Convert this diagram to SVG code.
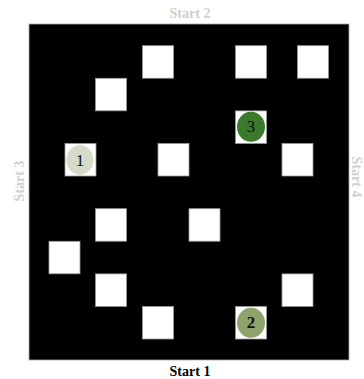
<svg xmlns="http://www.w3.org/2000/svg" width="364" height="379" viewBox="0 0 364 379">
<style>
.lbl{font-family:"Liberation Serif","Times New Roman",serif;font-size:14px;font-weight:bold;text-anchor:middle}
.start{fill:#cfcfcf}
.sq{fill:#ffffff;stroke:#9a9a9a;stroke-width:0.8}
.num{font-family:"Liberation Serif","Times New Roman",serif;font-size:17px;fill:#111;text-anchor:middle;dominant-baseline:central}
</style>
<rect x="0" y="0" width="364" height="379" fill="#ffffff"/>
<rect id="board" x="29" y="24" width="320" height="336" fill="#000000" stroke="#aaaaaa" stroke-width="0.8"/>
<text class="lbl start" x="190" y="18">Start 2</text>
<text class="lbl" x="190" y="376" fill="#000">Start 1</text>
<text class="lbl start" transform="translate(24,181) rotate(-90)">Start 3</text>
<text class="lbl start" transform="translate(352,177) rotate(90)">Start 4</text>
<g id="obstacles">
<rect class="sq" x="142.5" y="45.7" width="31" height="32.5"/>
<rect class="sq" x="235.5" y="45.7" width="31" height="32.5"/>
<rect class="sq" x="297.5" y="45.7" width="31" height="32.5"/>
<rect class="sq" x="95.5" y="78.3" width="31" height="32.5"/>
<rect class="sq" x="158" y="143.5" width="31" height="32.5"/>
<rect class="sq" x="282" y="143.5" width="31" height="32.5"/>
<rect class="sq" x="95.5" y="208.7" width="31" height="32.5"/>
<rect class="sq" x="189" y="208.7" width="31" height="32.5"/>
<rect class="sq" x="49" y="241.3" width="31" height="32.5"/>
<rect class="sq" x="95.5" y="273.9" width="31" height="32.5"/>
<rect class="sq" x="282" y="273.9" width="31" height="32.5"/>
<rect class="sq" x="142.5" y="306.5" width="31" height="32.5"/>
</g>
<g id="node1">
<rect class="sq" x="65" y="143.5" width="31" height="32.5"/>
<ellipse cx="80" cy="160" rx="13.5" ry="15" fill="#d6dbc9"/>
<text class="num" x="80" y="160">1</text>
</g>
<g id="node2">
<rect class="sq" x="235.5" y="306.5" width="31" height="32.5"/>
<ellipse cx="251" cy="322.8" rx="14" ry="15" fill="#8fa36f"/>
<text class="num" x="251" y="322.8" font-weight="bold">2</text>
</g>
<g id="node3">
<rect class="sq" x="235.5" y="110.9" width="31" height="32.5"/>
<ellipse cx="251" cy="126.8" rx="14" ry="15" fill="#3b7a2c"/>
<text class="num" x="251" y="126.8">3</text>
</g>
<g id="connectors"></g>
</svg>
